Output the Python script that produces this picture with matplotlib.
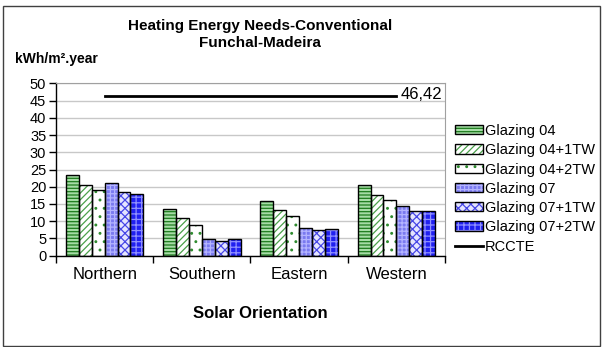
import matplotlib
matplotlib.use("Agg")
import matplotlib.pyplot as plt
import numpy as np
from matplotlib.patches import Patch, Rectangle
from matplotlib.lines import Line2D
from matplotlib.legend_handler import HandlerTuple

plt.rcParams['font.family'] = ['Liberation Sans', 'DejaVu Sans']
plt.rcParams['hatch.linewidth'] = 0.9

categories = ["Northern", "Southern", "Eastern", "Western"]
series_names = ["Glazing 04", "Glazing 04+1TW", "Glazing 04+2TW",
                "Glazing 07", "Glazing 07+1TW", "Glazing 07+2TW"]
glazing_04 = [23.5, 13.5, 15.9, 20.4]
glazing_04_1tw = [20.4, 10.9, 13.2, 17.6]
glazing_04_2tw = [19.1, 9.0, 11.5, 16.2]
glazing_07 = [21.0, 4.9, 8.0, 14.3]
glazing_07_1tw = [18.6, 4.4, 7.4, 13.0]
glazing_07_2tw = [17.8, 4.7, 7.6, 13.0]
rccte = 46.42
rccte_label = "46,42"
y_ticks = [0, 5, 10, 15, 20, 25, 30, 35, 40, 45, 50]

series = [glazing_04, glazing_04_1tw, glazing_04_2tw,
          glazing_07, glazing_07_1tw, glazing_07_2tw]
faces = ['#a6dca6', '#ffffff', '#ffffff', '#7a7af0', '#e4e4ff', '#2020f0']
hatch_cols = ['#1e7c1e', '#4aa04a', '#2e8b2e', '#b4b4ff', '#4646e6', '#9090ff']
hatches = ['-----', '/////', '..', '++++', 'xxxx', '+++']

fig = plt.figure(figsize=(6.08, 3.47), dpi=100)
W, H = 608, 347
ax = fig.add_axes([56 / W, 1 - 255.7 / H, (445 - 56) / W, (255.7 - 83.3) / H])

x = np.arange(len(categories))
bw = 0.133
n = len(series)
for i, vals in enumerate(series):
    off = (i - (n - 1) / 2) * bw
    ax.bar(x + off, vals, bw, color=faces[i], edgecolor=hatch_cols[i],
           hatch=hatches[i], linewidth=0, zorder=2)
    ax.bar(x + off, vals, bw, fill=False, edgecolor='black', linewidth=1.0, zorder=3)

ax.plot(x, [rccte] * len(categories), color='black', lw=2.0, zorder=4)
ax.text(x[-1] + 0.04, rccte + 0.3, rccte_label, va='center', ha='left', fontsize=12)

ax.set_xlim(-0.5, 3.5)
ax.set_ylim(0, 50)
ax.set_yticks(y_ticks)
ax.set_yticklabels([str(t) for t in y_ticks], fontsize=10.5)
ax.tick_params(axis='y', direction='out', length=5, width=1, pad=2)
ax.set_xticks(x)
ax.set_xticklabels(categories, fontsize=12)
ax.set_xticks(np.arange(-0.5, 4, 1), minor=True)
ax.tick_params(axis='x', which='major', length=0, pad=8)
ax.tick_params(axis='x', which='minor', direction='out', length=5, width=1)
ax.grid(axis='y', color='#c8c8c8', lw=1, zorder=0)
ax.set_axisbelow(True)
for s in ['top', 'right']:
    ax.spines[s].set_color('#a0a0a0')
for s in ['left', 'bottom']:
    ax.spines[s].set_color('black')
    ax.spines[s].set_linewidth(1.0)

fig.text(260 / W, 1 - 26 / H, "Heating Energy Needs-Conventional", ha='center', va='center',
         fontsize=11, fontweight='bold')
fig.text(260 / W, 1 - 43 / H, "Funchal-Madeira", ha='center', va='center',
         fontsize=11, fontweight='bold')
fig.text(15 / W, 1 - 59 / H, "kWh/m².year", ha='left', va='center',
         fontsize=10, fontweight='bold')
fig.text(260 / W, 1 - 313 / H, "Solar Orientation", ha='center', va='center',
         fontsize=12, fontweight='bold')

handles = []
for i in range(n):
    h1 = Patch(facecolor=faces[i], edgecolor=hatch_cols[i], hatch=hatches[i], linewidth=0)
    h2 = Patch(fill=False, edgecolor='black', linewidth=1.0)
    handles.append((h1, h2))
handles.append(Line2D([], [], color='black', lw=2.0))
labels = series_names + ["RCCTE"]
fig.legend(handles, labels, loc='upper left', bbox_to_anchor=(455 / W, 1 - 124 / H),
           frameon=False, fontsize=10.5, handlelength=1.9, handleheight=0.6,
           handletextpad=0.15, labelspacing=0.36, borderpad=0, borderaxespad=0,
           handler_map={tuple: HandlerTuple(ndivide=1, pad=0)})

fig.add_artist(Rectangle((3 / W, 1 - 346 / H), (600 - 3) / W, (346 - 6) / H,
                         transform=fig.transFigure, fill=False, edgecolor='#404040', lw=1))

fig.savefig("out.png", dpi=100)
